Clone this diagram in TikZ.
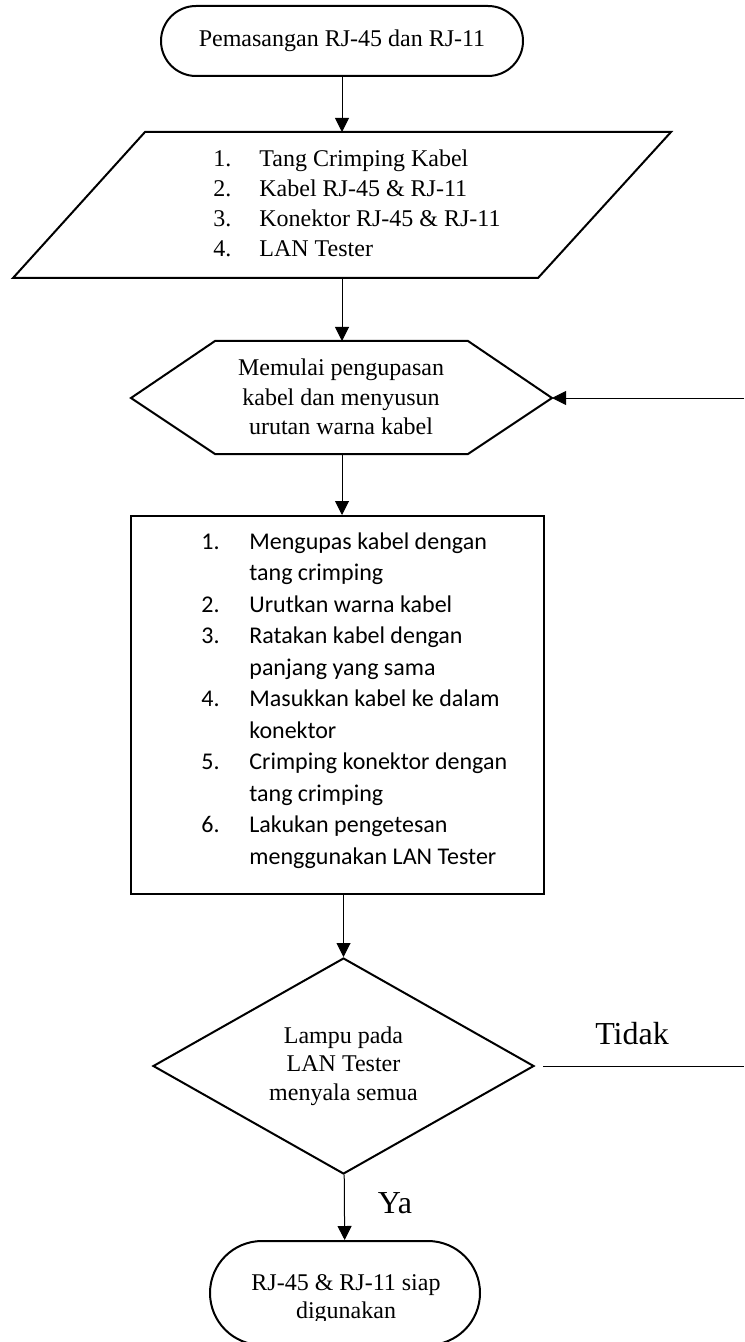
\documentclass[tikz,border=0pt]{standalone}
\usepackage{fontspec}
\setmainfont{Liberation Serif}
\newfontfamily\calibri{Carlito}
\usetikzlibrary{arrows.meta,shapes.geometric}

\tikzset{
  shp/.style={draw, line width=1pt},
  conn/.style={line width=0.5pt, -{Triangle[length=7pt,width=7pt]}},
  txt/.style={font=\fontsize{12}{14.75}\selectfont, align=center, inner sep=0pt},
  big/.style={font=\fontsize{16}{19}\selectfont, inner sep=0pt}
}

\begin{document}
\begin{tikzpicture}[x=0.5pt, y=-0.5pt]
\useasboundingbox (0,0) rectangle (744,1342);

\node[shp, txt, rounded corners=17.5pt, minimum width=181pt, minimum height=35pt] (start) at (342,41) {Pemasangan RJ-45 dan RJ-11};

\draw[shp] (145,132) -- (671,132) -- (538,278) -- (13,278) -- cycle;
\coordinate (alatN) at (342,132);
\coordinate (alatS) at (342,278);
\node[txt, anchor=west, align=left, font=\fontsize{12}{15}\selectfont] (alat) at (213,203)
  {\makebox[23pt][l]{1.}Tang Crimping Kabel\\
   \makebox[23pt][l]{2.}Kabel RJ-45 \& RJ-11\\
   \makebox[23pt][l]{3.}Konektor RJ-45 \& RJ-11\\
   \makebox[23pt][l]{4.}LAN Tester};

\draw[shp] (131,398) -- (215,341) -- (468,341) -- (552,398) coordinate (mulaiE) -- (468,454) -- (215,454) -- cycle;
\coordinate (mulaiN) at (342,341);
\coordinate (mulaiS) at (342,454);
\node[txt] (mulai) at (341,397) {Memulai pengupasan\\kabel dan menyusun\\urutan warna kabel};

\node[shp, minimum width=206.5pt, minimum height=189pt, inner sep=0pt] (kerja) at (337.5,705) {};
\node[anchor=west, align=left, inner sep=0pt, font=\calibri\fontsize{12}{15.75}\selectfont] (langkah) at (201,700.5)
  {\makebox[24pt][l]{1.}Mengupas kabel dengan\\
   \hspace*{24pt}tang crimping\\
   \makebox[24pt][l]{2.}Urutkan warna kabel\\
   \makebox[24pt][l]{3.}Ratakan kabel dengan\\
   \hspace*{24pt}panjang yang sama\\
   \makebox[24pt][l]{4.}Masukkan kabel ke dalam\\
   \hspace*{24pt}konektor\\
   \makebox[24pt][l]{5.}Crimping konektor dengan\\
   \hspace*{24pt}tang crimping\\
   \makebox[24pt][l]{6.}Lakukan pengetesan\\
   \hspace*{24pt}menggunakan LAN Tester};

\node[shp, diamond, aspect=1.76, txt, font=\fontsize{12}{14.25}\selectfont, minimum width=190.5pt, minimum height=108pt] (cek) at (343.5,1066) {Lampu pada\\LAN Tester\\menyala semua};

\node[shp, rounded corners=26pt, minimum width=135pt, minimum height=52pt, inner sep=0pt] (selesai) at (345,1293) {};
\begin{scope}
\clip (0,0) rectangle (744,1320);
\node[txt, font=\fontsize{12}{14}\selectfont] (siap) at (346,1299) {RJ-45 \& RJ-11 siap\\digunakan};
\end{scope}

\coordinate (balik) at (744,398);
\coordinate (tidakE) at (744,1066);

\draw[conn] (start) -- (alatN);
\draw[conn] (alatS) -- (mulaiN);
\draw[conn] (mulaiS) -- (mulaiS |- kerja.north);
\draw[conn] (cek.north |- kerja.south) -- (cek);
\draw[conn] (cek) -- (selesai);
\draw[conn] (balik) -- (mulaiE);
\draw[line width=0.5pt] ([xshift=4pt]cek.east) -- (tidakE);

\node[big] (tidak) at (632,1034) {Tidak};
\node[big] (ya) at (395,1203) {Ya};
\end{tikzpicture}
\end{document}
